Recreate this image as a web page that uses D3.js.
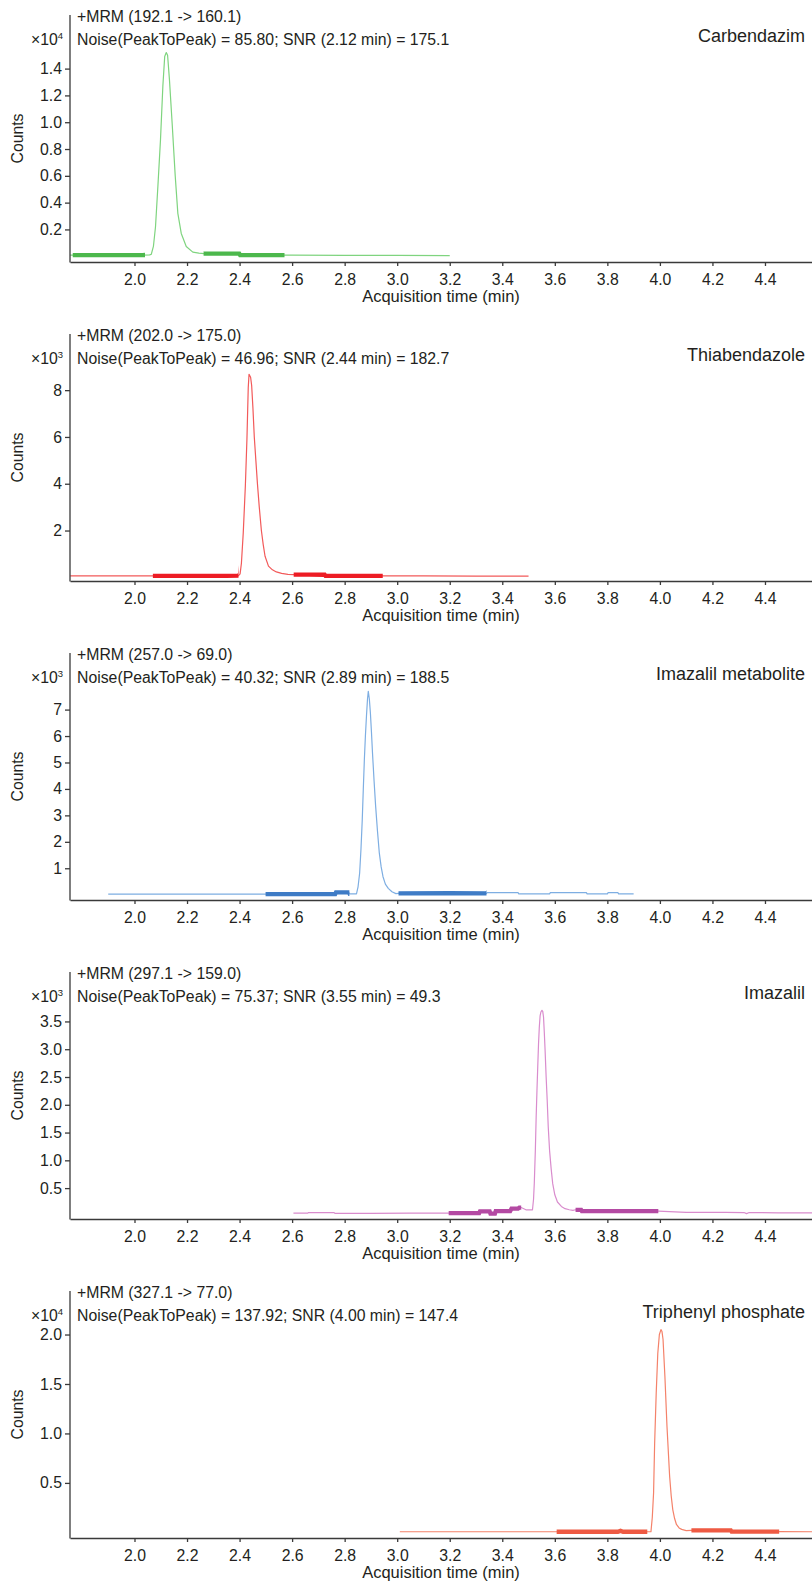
<!DOCTYPE html>
<html>
<head>
<meta charset="utf-8">
<script src="https://cdn.jsdelivr.net/npm/d3@7"></script>
<style>
  body { margin: 0; background: #fff; }
  svg { display: block; font-family: "Liberation Sans", Arial, sans-serif; }
</style>
</head>
<body>
<div id="chart"></div>
<script>
// compounds, one chromatogram panel each
const compounds = ['Carbendazim', 'Thiabendazole', 'Imazalil metabolite', 'Imazalil', 'Triphenyl phosphate'];
const transitions = [
  '+MRM (192.1 -> 160.1)',
  '+MRM (202.0 -> 175.0)',
  '+MRM (257.0 -> 69.0)',
  '+MRM (297.1 -> 159.0)',
  '+MRM (327.1 -> 77.0)'
];
const noiseLabels = [
  'Noise(PeakToPeak) = 85.80; SNR (2.12 min) = 175.1',
  'Noise(PeakToPeak) = 46.96; SNR (2.44 min) = 182.7',
  'Noise(PeakToPeak) = 40.32; SNR (2.89 min) = 188.5',
  'Noise(PeakToPeak) = 75.37; SNR (3.55 min) = 49.3',
  'Noise(PeakToPeak) = 137.92; SNR (4.00 min) = 147.4'
];
const exponents = [4, 3, 3, 3, 4];

// axis ticks and ranges (y in units of 10^exponent)
const xTicks = [2.0, 2.2, 2.4, 2.6, 2.8, 3.0, 3.2, 3.4, 3.6, 3.8, 4.0, 4.2, 4.4];
const timeDomain = [1.7545, 4.579];
const yTicks = [
  [0.2, 0.4, 0.6, 0.8, 1.0, 1.2, 1.4],
  [2, 4, 6, 8],
  [1, 2, 3, 4, 5, 6, 7],
  [0.5, 1.0, 1.5, 2.0, 2.5, 3.0, 3.5],
  [0.5, 1.0, 1.5, 2.0]
];
const yTickFormats = ['.1f', 'd', 'd', '.1f', '.1f'];
const yDomains = [[-0.043, 1.80], [-0.157, 10.4], [-0.2, 9.14], [-0.056, 4.39], [-0.057, 2.44]];

// traces: [acquisition time (min), counts]
const carbendazim = [
  [1.755, 90], [1.85, 85], [1.95, 90], [2.03, 90], [2.058, 100], [2.064, 150], [2.072, 730],
  [2.080, 2200], [2.089, 5200], [2.099, 8700], [2.108, 12700], [2.115, 14900], [2.121, 15200],
  [2.126, 15000], [2.133, 13200], [2.144, 9700], [2.155, 6000], [2.165, 3200], [2.178, 1700],
  [2.197, 730], [2.222, 310], [2.245, 230], [2.265, 200], [2.33, 200], [2.399, 190], [2.402, 90],
  [2.50, 85], [2.60, 80], [2.80, 70], [3.00, 60], [3.20, 50]
];
const thiabendazole = [
  [1.755, 60], [1.90, 60], [2.05, 65], [2.20, 65], [2.35, 65], [2.396, 70], [2.402, 150],
  [2.407, 600], [2.414, 1900], [2.422, 3900], [2.428, 5900], [2.433, 8100], [2.436, 8680],
  [2.442, 8550], [2.446, 8200], [2.451, 7200], [2.456, 6000], [2.462, 5000], [2.468, 4000],
  [2.475, 3000], [2.483, 2000], [2.490, 1400], [2.497, 900], [2.510, 480], [2.525, 320],
  [2.540, 230], [2.560, 170], [2.584, 130], [2.606, 115], [2.665, 115], [2.724, 110],
  [2.727, 65], [2.80, 60], [2.945, 60], [3.10, 60], [3.30, 55], [3.50, 55]
];
const imazalilMetabolite = [
  [1.90, 20], [2.10, 20], [2.30, 20], [2.499, 20], [2.65, 20], [2.764, 20], [2.767, 85],
  [2.816, 85], [2.819, 30], [2.845, 30], [2.851, 300], [2.857, 810], [2.862, 1700], [2.867, 2830],
  [2.871, 4000], [2.875, 5100], [2.879, 6000], [2.883, 6750], [2.887, 7400], [2.890, 7690],
  [2.894, 7400], [2.898, 6870], [2.902, 6150], [2.906, 5360], [2.912, 4300], [2.918, 3340],
  [2.925, 2400], [2.932, 1570], [2.939, 1050], [2.946, 680], [2.955, 400], [2.966, 240],
  [2.980, 110], [2.995, 40], [3.005, 50], [3.20, 55], [3.34, 50], [3.343, 80], [3.46, 80],
  [3.463, 30], [3.58, 30], [3.583, 80], [3.72, 80], [3.723, 30], [3.80, 30], [3.803, 80],
  [3.84, 80], [3.843, 30], [3.90, 30]
];
const imazalil = [
  [2.605, 50], [2.66, 50], [2.663, 60], [2.76, 60], [2.763, 45], [2.90, 45], [3.05, 48],
  [3.196, 50], [3.312, 50], [3.315, 80], [3.352, 80], [3.355, 40], [3.372, 40], [3.375, 85],
  [3.43, 85], [3.435, 130], [3.46, 130], [3.465, 150], [3.472, 150], [3.49, 110], [3.515, 110],
  [3.519, 300], [3.522, 600], [3.526, 1200], [3.529, 1780], [3.532, 2250], [3.535, 2680],
  [3.538, 3100], [3.541, 3400], [3.544, 3600], [3.547, 3670], [3.551, 3700], [3.554, 3680],
  [3.557, 3580], [3.560, 3300], [3.563, 2980], [3.567, 2500], [3.571, 2080], [3.575, 1600],
  [3.580, 1180], [3.586, 850], [3.592, 580], [3.600, 380], [3.610, 250], [3.625, 170],
  [3.639, 130], [3.655, 110], [3.669, 100], [3.679, 110], [3.70, 110], [3.703, 85], [3.85, 85],
  [3.994, 85], [4.10, 65], [4.25, 65], [4.32, 60], [4.33, 40], [4.34, 60], [4.45, 55], [4.58, 55]
];
const triphenylPhosphate = [
  [3.01, 60], [3.2, 60], [3.4, 60], [3.607, 60], [3.84, 60], [3.85, 150], [3.86, 60],
  [3.952, 60], [3.966, 80], [3.971, 1500], [3.976, 4000], [3.980, 9000], [3.986, 14100],
  [3.992, 18100], [3.998, 20000], [4.004, 20500], [4.008, 20300], [4.012, 19500], [4.019, 15800],
  [4.027, 10700], [4.037, 5700], [4.043, 3700], [4.049, 2300], [4.056, 1400], [4.063, 800],
  [4.073, 450], [4.083, 300], [4.10, 180], [4.12, 200], [4.27, 200], [4.273, 80], [4.454, 70],
  [4.58, 60]
];
const traces = [carbendazim, thiabendazole, imazalilMetabolite, imazalil, triphenylPhosphate];

// noise regions (min) highlighted on each trace
const noiseRegions = [
  [[1.765, 2.04], [2.263, 2.571]],
  [[2.07, 2.396], [2.606, 2.945]],
  [[2.499, 2.818], [3.005, 3.34]],
  [[3.196, 3.472], [3.679, 3.994]],
  [[3.607, 3.952], [4.12, 4.454]]
];

// styles
const lineColors = ['#7fd47f', '#f25a5a', '#7eaee2', '#d98ccd', '#f4826a'];
const noiseColors = ['#4cb84c', '#ed1c24', '#3f7cc6', '#b44aa3', '#ee5a43'];
const textColor = '#231f20';

const width = 812;
const height = 1583;
const margin = {left: 70, right: 0};
const panelTop = 15;
const panelStep = 319;
const panelHeight = 247;
const fontSize = 15.8;

const svg = d3.select('#chart')
  .append('svg')
    .attr('width', width)
    .attr('height', height);

const x = d3.scaleLinear()
    .domain(timeDomain)
    .range([margin.left, width - margin.right]);

compounds.forEach((name, i) => {
  const top = panelTop + panelStep * i;
  const bottom = top + panelHeight;
  const scale = Math.pow(10, exponents[i]);

  const y = d3.scaleLinear()
      .domain(yDomains[i].map(v => v * scale))
      .range([bottom, top]);

  const line = d3.line()
      .x(d => x(d[0]))
      .y(d => y(d[1]));

  const g = svg.append('g').attr('class', 'panel');

  // clip to plot area
  g.append('clipPath')
      .attr('id', `plot-${i}`)
    .append('rect')
      .attr('x', margin.left)
      .attr('y', top)
      .attr('width', width - margin.left)
      .attr('height', panelHeight);

  g.append('path')
      .datum(traces[i])
      .attr('clip-path', `url(#plot-${i})`)
      .attr('fill', 'none')
      .attr('stroke', lineColors[i])
      .attr('stroke-width', 1.2)
      .attr('stroke-linejoin', 'round')
      .attr('d', line);

  // thick overlay on the noise regions
  noiseRegions[i].forEach(([t0, t1], j) => {
    g.append('clipPath')
        .attr('id', `noise-${i}-${j}`)
      .append('rect')
        .attr('x', x(t0))
        .attr('y', top)
        .attr('width', x(t1) - x(t0))
        .attr('height', panelHeight);

    g.append('path')
        .datum(traces[i])
        .attr('clip-path', `url(#noise-${i}-${j})`)
        .attr('fill', 'none')
        .attr('stroke', noiseColors[i])
        .attr('stroke-width', 4.3)
        .attr('d', line);
  });

  // axes
  const fmt = d3.format(yTickFormats[i]);
  const yAxis = d3.axisLeft(y)
      .tickValues(yTicks[i].map(v => v * scale))
      .tickFormat(d => fmt(d / scale))
      .tickSize(5)
      .tickSizeOuter(0)
      .tickPadding(3);

  const xAxis = d3.axisBottom(x)
      .tickValues(xTicks)
      .tickFormat(d3.format('.1f'))
      .tickSize(4)
      .tickSizeOuter(0)
      .tickPadding(7.5);

  g.append('g')
      .attr('transform', `translate(${margin.left},0)`)
      .call(yAxis)
      .call(a => a.select('.domain').attr('d', `M0,${top}V${bottom + 0.5}`));

  g.append('g')
      .attr('transform', `translate(0,${bottom})`)
      .call(xAxis);

  g.selectAll('.domain, .tick line')
      .attr('stroke', '#3a3a3a')
      .attr('stroke-width', 1.3);
  g.selectAll('.tick text')
      .attr('fill', textColor)
      .attr('font-family', '"Liberation Sans", Arial, sans-serif')
      .attr('font-size', fontSize);

  // axis titles
  g.append('text')
      .attr('transform', `translate(17,${(top + bottom) / 2}) rotate(-90)`)
      .attr('text-anchor', 'middle')
      .attr('dy', '0.35em')
      .attr('fill', textColor)
      .attr('font-size', fontSize)
      .text('Counts');

  g.append('text')
      .attr('x', (margin.left + width) / 2)
      .attr('y', bottom + 40)
      .attr('text-anchor', 'middle')
      .attr('fill', textColor)
      .attr('font-size', 16.5)
      .text('Acquisition time (min)');

  // multiplier
  g.append('text')
      .attr('x', 63)
      .attr('y', top + 30)
      .attr('text-anchor', 'end')
      .attr('fill', textColor)
      .attr('font-size', fontSize)
      .call(t => t.append('tspan').text('\u00d710'))
      .call(t => t.append('tspan')
          .attr('dy', -6)
          .attr('font-size', 9.5)
          .text(exponents[i]));

  // annotations
  g.append('text')
      .attr('x', 77)
      .attr('y', top + 7)
      .attr('fill', textColor)
      .attr('font-size', fontSize)
      .text(transitions[i]);

  g.append('text')
      .attr('x', 77)
      .attr('y', top + 30)
      .attr('fill', textColor)
      .attr('font-size', fontSize)
      .text(noiseLabels[i]);

  g.append('text')
      .attr('x', 805)
      .attr('y', top + 27)
      .attr('text-anchor', 'end')
      .attr('fill', textColor)
      .attr('font-size', 18)
      .text(name);
});
</script>
</body>
</html>
